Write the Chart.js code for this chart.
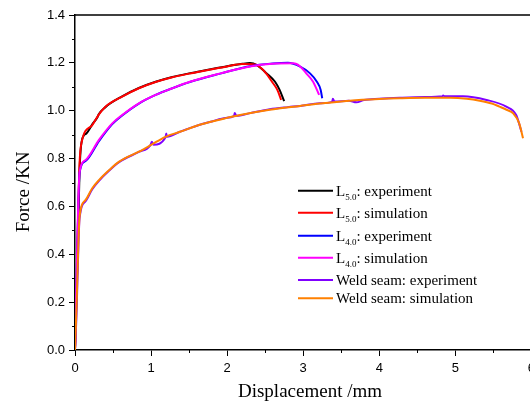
<!DOCTYPE html>
<html>
<head>
<meta charset="utf-8">
<script src="https://cdn.jsdelivr.net/npm/chart.js@4/dist/chart.umd.min.js"></script>
<style>
  html, body { margin: 0; padding: 0; background: #fff; overflow: hidden; }
  #wrap { width: 540px; height: 403px; }
</style>
</head>
<body>
<div id="wrap"><canvas id="forceChart" width="540" height="403"></canvas></div>
<script>
// L5.0 specimen
const l5ExpX = [0, 0.03, 0.06, 0.09, 0.15, 0.227, 0.3, 0.31, 0.4, 0.62, 0.84, 1.06, 1.28, 1.5, 1.75, 2.0, 2.2, 2.3, 2.39, 2.52, 2.63, 2.69, 2.75];
const l5ExpY = [0, 0.35, 0.75, 0.875, 0.905, 0.943, 0.976, 0.984, 1.015, 1.06, 1.095, 1.121, 1.141, 1.156, 1.171, 1.186, 1.196, 1.199, 1.191, 1.156, 1.121, 1.087, 1.04];
const l5SimX = [0, 0.02, 0.04, 0.06, 0.087, 0.227, 0.315, 0.4, 0.62, 0.84, 1.06, 1.28, 1.5, 1.75, 2.0, 2.2, 2.37, 2.45, 2.52, 2.59, 2.66, 2.71];
const l5SimY = [0, 0.25, 0.55, 0.78, 0.868, 0.94, 0.985, 1.017, 1.059, 1.094, 1.12, 1.14, 1.155, 1.17, 1.185, 1.195, 1.193, 1.177, 1.153, 1.121, 1.087, 1.045];

// L4.0 specimen
const l4ExpX = [0, 0.02, 0.04, 0.06, 0.14, 0.315, 0.49, 0.62, 0.84, 1.06, 1.28, 1.51, 1.91, 2.3, 2.6, 2.8, 2.96, 3.09, 3.18, 3.23, 3.25];
const l4ExpY = [0, 0.28, 0.56, 0.74, 0.79, 0.873, 0.944, 0.98, 1.03, 1.066, 1.094, 1.12, 1.155, 1.186, 1.197, 1.2, 1.184, 1.156, 1.121, 1.087, 1.052];
const l4SimX = [0, 0.02, 0.04, 0.06, 0.14, 0.315, 0.49, 0.62, 0.84, 1.06, 1.28, 1.51, 1.91, 2.3, 2.6, 2.87, 2.96, 3.04, 3.13, 3.2, 3.21];
const l4SimY = [0, 0.3, 0.58, 0.742, 0.794, 0.878, 0.947, 0.982, 1.031, 1.066, 1.094, 1.121, 1.156, 1.185, 1.196, 1.198, 1.185, 1.156, 1.121, 1.073, 1.066];

// weld seam specimen
const weldExpX = [0, 0.02, 0.04, 0.06, 0.14, 0.227, 0.315, 0.45, 0.58, 0.84, 0.99, 1.01, 1.03, 1.19, 1.2, 1.21, 1.38, 1.63, 1.8, 1.98, 2.09, 2.1, 2.12, 2.3, 2.56, 2.8, 2.96, 3.22, 3.38, 3.39, 3.41, 3.6, 3.7, 3.8, 4.0, 4.27, 4.6, 4.83, 4.84, 4.86, 5.1, 5.41, 5.67, 5.8, 5.87];
const weldExpY = [0, 0.15, 0.38, 0.55, 0.622, 0.672, 0.707, 0.75, 0.785, 0.828, 0.855, 0.87, 0.858, 0.889, 0.905, 0.891, 0.912, 0.94, 0.955, 0.97, 0.977, 0.99, 0.979, 0.99, 1.006, 1.015, 1.02, 1.031, 1.037, 1.05, 1.038, 1.042, 1.035, 1.045, 1.05, 1.054, 1.057, 1.06, 1.064, 1.06, 1.06, 1.045, 1.017, 0.982, 0.912];
const weldSimX = [0, 0.02, 0.04, 0.06, 0.14, 0.227, 0.315, 0.45, 0.58, 0.84, 1.0, 1.19, 1.38, 1.63, 1.8, 2.0, 2.17, 2.56, 2.96, 3.22, 3.61, 4.0, 4.27, 4.6, 4.93, 5.15, 5.32, 5.48, 5.58, 5.68, 5.76, 5.84, 5.89];
const weldSimY = [0, 0.18, 0.4, 0.557, 0.627, 0.676, 0.71, 0.752, 0.787, 0.829, 0.857, 0.891, 0.912, 0.94, 0.955, 0.97, 0.982, 1.004, 1.02, 1.03, 1.042, 1.049, 1.052, 1.054, 1.054, 1.05, 1.042, 1.03, 1.017, 1.003, 0.989, 0.947, 0.885];

// legend entries: [main text, subscript, rest]
const seriesLabels = [
    ['L', '5.0', ': experiment'],
    ['L', '5.0', ': simulation'],
    ['L', '4.0', ': experiment'],
    ['L', '4.0', ': simulation'],
    ['Weld seam: experiment', '', ''],
    ['Weld seam: simulation', '', ''],
];
const seriesColors = ['#000000', '#ff0000', '#0000ff', '#ff00ff', '#8000ff', '#ff8000'];
const xTicks = [0, 1, 2, 3, 4, 5, 6];
const yTicks = [0, 0.2, 0.4, 0.6, 0.8, 1.0, 1.2, 1.4];

const seriesXY = [
    [l5ExpX, l5ExpY], [l5SimX, l5SimY],
    [l4ExpX, l4ExpY], [l4SimX, l4SimY],
    [weldExpX, weldExpY], [weldSimX, weldSimY],
];

const toPoints = (xs, ys) => xs.map((x, i) => ({ x: x, y: ys[i] }));

// later series are painted over earlier ones
const datasets = seriesXY.map(([xs, ys], i) => ({
    label: seriesLabels[i].join(''),
    data: toPoints(xs, ys),
    borderColor: seriesColors[i],
    borderWidth: 2,
    pointRadius: 0,
    cubicInterpolationMode: 'monotone',
    fill: false,
    order: seriesXY.length - i,
}));

const serif = '"Liberation Serif", "Times New Roman", serif';

// frame, minor ticks, axis titles and the legend
const decorations = {
    id: 'decorations',
    afterDraw(chart) {
        const { ctx, chartArea, scales } = chart;
        const xs = scales.x, ys = scales.y;
        ctx.save();
        ctx.strokeStyle = '#000';
        ctx.lineWidth = 1.5;
        ctx.beginPath();
        ctx.moveTo(chartArea.left, chartArea.top);
        ctx.lineTo(chartArea.right, chartArea.top);
        ctx.lineTo(chartArea.right, chartArea.bottom);
        ctx.stroke();

        ctx.lineWidth = 1;
        ctx.beginPath();
        for (let v = 0.1; v < 1.4; v += 0.2) {
            const py = Math.round(ys.getPixelForValue(v)) + 0.5;
            ctx.moveTo(chartArea.left - 3, py);
            ctx.lineTo(chartArea.left, py);
        }
        for (let v = 0.5; v < 6; v += 1) {
            const px = Math.round(xs.getPixelForValue(v)) + 0.5;
            ctx.moveTo(px, chartArea.bottom);
            ctx.lineTo(px, chartArea.bottom + 3);
        }
        ctx.stroke();

        ctx.fillStyle = '#000';
        ctx.font = '19px ' + serif;
        ctx.textAlign = 'center';
        ctx.textBaseline = 'middle';
        ctx.fillText('Displacement /mm', 310, 392);
        ctx.save();
        ctx.translate(24, 192);
        ctx.rotate(-Math.PI / 2);
        ctx.fillText('Force /KN', 0, 0);
        ctx.restore();

        const rowsY = [190.7, 212.7, 235.7, 257.7, 280, 298.3];
        ctx.textAlign = 'left';
        seriesLabels.forEach((parts, i) => {
            const y = rowsY[i];
            ctx.strokeStyle = seriesColors[i];
            ctx.lineWidth = 2;
            ctx.beginPath();
            ctx.moveTo(298, y);
            ctx.lineTo(333, y);
            ctx.stroke();
            let x = 336;
            ctx.font = '15px ' + serif;
            ctx.fillText(parts[0], x, y + 1);
            x += ctx.measureText(parts[0]).width;
            if (parts[1]) {
                ctx.font = '9px ' + serif;
                ctx.fillText(parts[1], x, y + 7);
                x += ctx.measureText(parts[1]).width;
                ctx.font = '15px ' + serif;
                ctx.fillText(parts[2], x, y + 1);
            }
        });
        ctx.restore();
    },
};

new Chart(document.getElementById('forceChart'), {
    type: 'line',
    data: { datasets: datasets },
    options: {
        responsive: false,
        animation: false,
        layout: { padding: { top: 15, right: 8, left: 0, bottom: 0 } },
        plugins: {
            legend: { display: false },
            tooltip: { enabled: false },
        },
        scales: {
            x: {
                type: 'linear',
                min: 0,
                max: 6,
                afterBuildTicks: (scale) => { scale.ticks = xTicks.map(v => ({ value: v })); },
                afterFit: (scale) => { scale.height = 53; },
                ticks: {
                    color: '#000',
                    padding: 5,
                    maxRotation: 0,
                    font: { family: '"Liberation Sans", Arial, sans-serif', size: 13 },
                },
                grid: { drawOnChartArea: false, tickLength: 6, color: '#000', lineWidth: 1 },
                border: { color: '#000', width: 1.5 },
            },
            y: {
                min: 0,
                max: 1.4,
                afterBuildTicks: (scale) => { scale.ticks = yTicks.map(v => ({ value: v })); },
                afterFit: (scale) => { scale.width = 75; },
                ticks: {
                    color: '#000',
                    padding: 4,
                    callback: (v) => Number(v).toFixed(1),
                    font: { family: '"Liberation Sans", Arial, sans-serif', size: 13 },
                },
                grid: { drawOnChartArea: false, tickLength: 6, color: '#000', lineWidth: 1 },
                border: { color: '#000', width: 1.5 },
            },
        },
    },
    plugins: [decorations],
});
</script>
</body>
</html>
